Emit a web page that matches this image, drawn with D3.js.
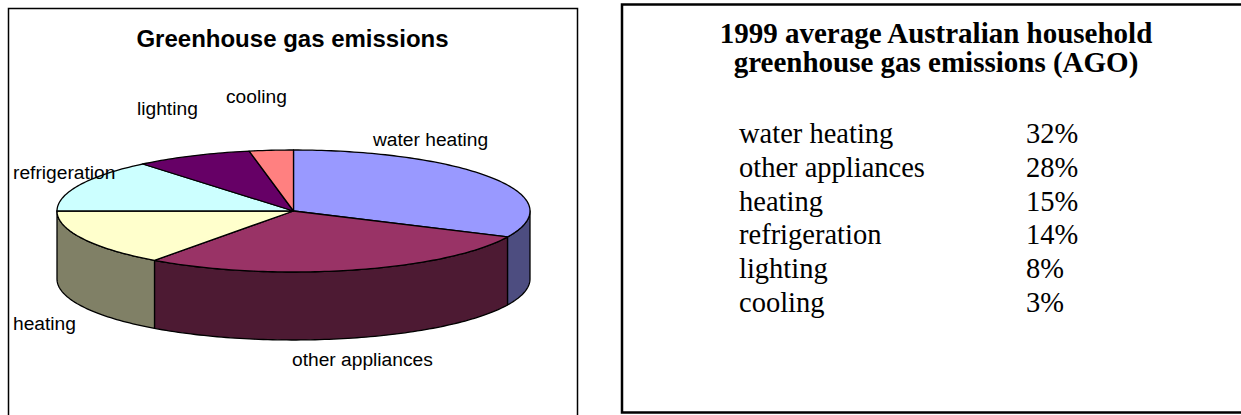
<!DOCTYPE html>
<html>
<head>
<meta charset="utf-8">
<script src="https://cdn.jsdelivr.net/npm/d3@7"></script>
<style>
  body { margin: 0; background: #fff; }
  svg { display: block; }
</style>
</head>
<body>
<div id="wrapper"></div>
<script>
// data
const categories = ["water heating", "other appliances", "heating", "refrigeration", "lighting", "cooling"];
const shares = [32, 28, 15, 14, 8, 3];
const topColors = ["#9999ff", "#993366", "#ffffcc", "#ccffff", "#660066", "#ff8080"];
const sideColors = ["#4d4d80", "#4d1a33", "#808066", "#668080", "#330033", "#804040"];

// where excel dropped the labels
const labelPos = {
    "water heating": [373, 146],
    "other appliances": [292, 366],
    "heating": [13, 330],
    "refrigeration": [13, 179],
    "lighting": [137, 115],
    "cooling": [226, 103]
};

const width = 1241, height = 415;

const svg = d3.select("#wrapper")
    .append("svg")
    .attr("width", width)
    .attr("height", height);

svg.append("rect").attr("width", width).attr("height", height).attr("fill", "#fff");

// left panel
svg.append("rect")
    .attr("x", 8.5).attr("y", 8.5)
    .attr("width", 569).attr("height", 430)
    .attr("fill", "none").attr("stroke", "#000").attr("stroke-width", 1.5);

svg.append("text")
    .attr("x", 292.5).attr("y", 47)
    .attr("text-anchor", "middle")
    .style("font-family", "'Liberation Sans', Arial, sans-serif")
    .style("font-weight", "bold")
    .style("font-size", "24px")
    .text("Greenhouse gas emissions");

// 3d pie: unit circle mapped to the ellipse
const x = d3.scaleLinear().domain([-1, 1]).range([57, 530]);
const y = d3.scaleLinear().domain([-1, 1]).range([150, 272]);
const depth = 68;

const pie = d3.pie().sort(null).value(d => d.value);
const arcs = pie(categories.map((c, i) => ({name: c, value: shares[i], i: i})));

function pt(a, dy) {
    return [x(Math.sin(a)), y(-Math.cos(a)) + (dy || 0)];
}
function rim(a0, a1, dy) {
    const n = Math.max(2, Math.ceil((a1 - a0) / 0.02));
    return d3.range(n + 1).map(k => pt(a0 + (a1 - a0) * k / n, dy));
}

const line = d3.line();
const pieG = svg.append("g");

// side walls, only the front half shows
arcs.forEach(d => {
    const a0 = Math.max(d.startAngle, Math.PI / 2);
    const a1 = Math.min(d.endAngle, Math.PI * 1.5);
    if (a0 >= a1) return;
    const pts = rim(a0, a1, 0).concat(rim(a0, a1, depth).reverse());
    pieG.append("path")
        .attr("d", line(pts) + "Z")
        .attr("fill", sideColors[d.data.i])
        .attr("stroke", "#000")
        .attr("stroke-width", 1.3)
        .attr("stroke-linejoin", "round");
});

// top faces
pieG.selectAll("path.top")
    .data(arcs)
    .enter()
    .append("path")
    .attr("class", "top")
    .attr("d", d => line([[x(0), y(0)]].concat(rim(d.startAngle, d.endAngle, 0))) + "Z")
    .attr("fill", d => topColors[d.data.i])
    .attr("stroke", "#000")
    .attr("stroke-width", 1.3)
    .attr("stroke-linejoin", "round");

svg.append("g")
    .selectAll("text")
    .data(arcs)
    .enter()
    .append("text")
    .attr("x", d => labelPos[d.data.name][0])
    .attr("y", d => labelPos[d.data.name][1])
    .style("font-family", "'Liberation Sans', Arial, sans-serif")
    .style("font-size", "19.2px")
    .text(d => d.data.name);

// right panel
svg.append("rect")
    .attr("x", 622).attr("y", 4.5)
    .attr("width", 640).attr("height", 408)
    .attr("fill", "none").attr("stroke", "#000").attr("stroke-width", 2.5);

const serif = "'Liberation Serif', 'Times New Roman', serif";
const titleLines = ["1999 average Australian household", "greenhouse gas emissions (AGO)"];
svg.append("g")
    .selectAll("text")
    .data(titleLines)
    .enter()
    .append("text")
    .attr("x", 936)
    .attr("y", (d, i) => 43 + i * 29)
    .attr("text-anchor", "middle")
    .style("font-family", serif)
    .style("font-weight", "bold")
    .style("font-size", "29px")
    .text(d => d);

const rowY = d3.scalePoint().domain(categories).range([143, 312]);

const rows = svg.append("g")
    .style("font-family", serif)
    .style("font-size", "28.5px");

rows.selectAll("text.name")
    .data(categories)
    .enter()
    .append("text")
    .attr("class", "name")
    .attr("x", 739)
    .attr("y", d => rowY(d))
    .text(d => d);

rows.selectAll("text.pct")
    .data(shares)
    .enter()
    .append("text")
    .attr("class", "pct")
    .attr("x", 1026)
    .attr("y", (d, i) => rowY(categories[i]))
    .text(d => d + "%");
</script>
</body>
</html>
